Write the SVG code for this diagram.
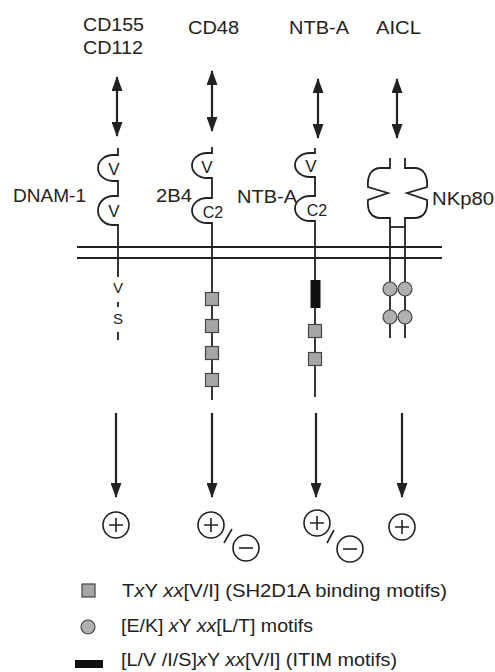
<svg xmlns="http://www.w3.org/2000/svg" width="495" height="672" viewBox="0 0 495 672">
<style>
text{font-family:"Liberation Sans",Arial,sans-serif;fill:#222}
.lbl{font-size:18px}
.dom{font-size:17px}
.c2{font-size:16px}
.small{font-size:15px}
.ln{stroke:#222;stroke-width:1.8;fill:none}
.arr{stroke:#222;stroke-width:2.2;fill:none}
.sq{fill:#a6a6a6;stroke:#444;stroke-width:1.2}
.ci{fill:#b0b0b0;stroke:#444;stroke-width:1.2}
.sig{fill:none;stroke:#222;stroke-width:1.6}
.it{font-style:italic}
</style>
<defs>
<marker id="ah" markerUnits="userSpaceOnUse" viewBox="0 0 15 11" refX="14" refY="5.5" markerWidth="15" markerHeight="11" orient="auto-start-reverse">
<path d="M0,0 L15,5.5 L0,11 z" fill="#222"/>
</marker>
<g id="plus"><circle r="13" class="sig"/><path d="M-7,0 H7 M0,-7 V7" class="sig" stroke-width="2"/></g>
<g id="minus"><circle r="13" class="sig"/><path d="M-7,0 H7" class="sig" stroke-width="2"/></g>
</defs>

<g id="ligands">
<text class="lbl" x="83" y="31" textLength="61" lengthAdjust="spacingAndGlyphs">CD155</text>
<text class="lbl" x="83" y="54" textLength="60" lengthAdjust="spacingAndGlyphs">CD112</text>
<text class="lbl" x="188" y="34" textLength="51" lengthAdjust="spacingAndGlyphs">CD48</text>
<text class="lbl" x="289" y="34" textLength="60" lengthAdjust="spacingAndGlyphs">NTB-A</text>
<text class="lbl" x="376" y="34" textLength="45" lengthAdjust="spacingAndGlyphs">AICL</text>
</g>

<g id="membrane">
<path d="M77,247 H442 M77,258 H442" class="ln" stroke-width="1.6"/>
</g>

<g id="dnam1">
<text class="lbl" x="13" y="202" textLength="73" lengthAdjust="spacingAndGlyphs">DNAM-1</text>
<path class="ln" d="M118,148 V155 H113 A15,13 0 0 0 113,181 H118 V196 H113 A15,14.5 0 0 0 113,225 H118 V277 M118,302 V307 M118,332 V340"/>
<text class="dom" x="114" y="175" text-anchor="middle">V</text>
<text class="dom" x="114" y="217" text-anchor="middle">V</text>
<text class="small" x="118" y="293" text-anchor="middle">V</text>
<text class="small" x="118" y="324" text-anchor="middle">S</text>
</g>

<g id="cd244">
<text class="lbl" x="156" y="202" textLength="36" lengthAdjust="spacingAndGlyphs">2B4</text>
<path class="ln" d="M212,147 V153 H207 A15,12.5 0 0 0 207,178 H212 V198 H207 A15,12.5 0 0 0 207,223 H212 V400"/>
<text class="dom" x="207" y="173" text-anchor="middle">V</text>
<text class="c2" x="213" y="218" text-anchor="middle">C2</text>
<rect class="sq" x="205.5" y="292.5" width="13" height="13"/>
<rect class="sq" x="205.5" y="319.5" width="13" height="13"/>
<rect class="sq" x="205.5" y="346.5" width="13" height="13"/>
<rect class="sq" x="205.5" y="373.5" width="13" height="13"/>
</g>

<g id="ntba">
<text class="lbl" x="237" y="203" textLength="60" lengthAdjust="spacingAndGlyphs">NTB-A</text>
<path class="ln" d="M315,148 V153 H310 A15,12 0 0 0 310,177 H315 V196 H310 A15,12.5 0 0 0 310,221 H315 V397"/>
<text class="dom" x="311" y="172" text-anchor="middle">V</text>
<text class="c2" x="317" y="216" text-anchor="middle">C2</text>
<rect x="310.5" y="280" width="10" height="28" fill="#111"/>
<rect class="sq" x="308.5" y="324.5" width="13" height="13"/>
<rect class="sq" x="308.5" y="352.5" width="13" height="13"/>
</g>

<g id="nkp80">
<text class="lbl" x="432" y="205" textLength="62" lengthAdjust="spacingAndGlyphs">NKp80</text>
<path class="ln" d="M390,158 V168 H381 C371,168 367,176 368,187 L388,193 L368,200 C367,211 371,218 381,218 H390 V338"/>
<path class="ln" d="M405,158 V168 H414 C424,168 428,176 427,187 L407,193 L427,200 C428,211 424,218 414,218 H405 V338"/>
<path class="ln" d="M390,227 H405"/>
<circle class="ci" cx="390" cy="289" r="7"/>
<circle class="ci" cx="405" cy="289" r="7"/>
<circle class="ci" cx="390" cy="317" r="7"/>
<circle class="ci" cx="405" cy="317" r="7"/>
</g>

<g id="connectors">
<line class="arr" x1="117" y1="77" x2="117" y2="136" marker-start="url(#ah)" marker-end="url(#ah)"/>
<line class="arr" x1="212" y1="71" x2="212" y2="131" marker-start="url(#ah)" marker-end="url(#ah)"/>
<line class="arr" x1="318" y1="79" x2="318" y2="138" marker-start="url(#ah)" marker-end="url(#ah)"/>
<line class="arr" x1="397" y1="79" x2="397" y2="138" marker-start="url(#ah)" marker-end="url(#ah)"/>
<line class="arr" x1="116" y1="413" x2="116" y2="497" marker-end="url(#ah)"/>
<line class="arr" x1="212" y1="413" x2="212" y2="497" marker-end="url(#ah)"/>
<line class="arr" x1="316" y1="413" x2="316" y2="497" marker-end="url(#ah)"/>
<line class="arr" x1="402" y1="413" x2="402" y2="497" marker-end="url(#ah)"/>
</g>

<g id="signals">
<use href="#plus" x="116" y="525"/>
<use href="#plus" x="211" y="525"/>
<path class="sig" stroke-width="2.2" d="M224,543 L232,529"/>
<use href="#minus" x="246" y="548"/>
<use href="#plus" x="317" y="523"/>
<path class="sig" stroke-width="2.2" d="M327,543 L334,530"/>
<use href="#minus" x="350" y="549"/>
<use href="#plus" x="402" y="527"/>
</g>

<g id="legend">
<rect class="sq" x="82" y="584" width="13" height="13"/>
<text class="lbl" x="122" y="597" textLength="325" lengthAdjust="spacingAndGlyphs">T<tspan class="it">x</tspan>Y <tspan class="it">xx</tspan>[V/I] (SH2D1A binding motifs)</text>
<circle class="ci" cx="88" cy="627" r="7"/>
<text class="lbl" x="121" y="632" textLength="192" lengthAdjust="spacingAndGlyphs">[E/K] <tspan class="it">x</tspan>Y <tspan class="it">xx</tspan>[L/T] motifs</text>
<rect x="75" y="660" width="28" height="8" fill="#111"/>
<text class="lbl" x="121" y="666" textLength="276" lengthAdjust="spacingAndGlyphs">[L/V /I/S]<tspan class="it">x</tspan>Y <tspan class="it">xx</tspan>[V/I] (ITIM motifs)</text>
</g>
</svg>
